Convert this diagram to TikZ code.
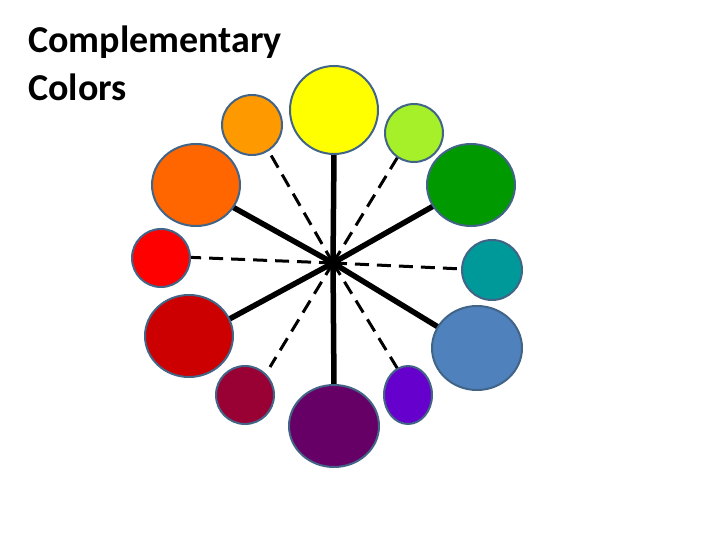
\documentclass[tikz,border=0pt]{standalone}
\usepackage{fontspec}
\setmainfont{Carlito}
\begin{document}
\begin{tikzpicture}[x=1pt,y=-1pt,
  solidspoke/.style={line width=5.5pt},
  dashspoke/.style={line width=3pt, dash pattern=on 14pt off 8pt}]
\useasboundingbox (0,0) rectangle (720,540);
\definecolor{bord}{RGB}{65,100,135}
\tikzset{blob/.style={draw=bord, line width=2pt}}
\coordinate (c) at (333,263);
\draw[solidspoke] (c) -- (334,154);
\draw[solidspoke] (c) -- (229,205);
\draw[solidspoke] (c) -- (437,204);
\draw[solidspoke] (c) -- (222,323);
\draw[solidspoke] (c) -- (443,330);
\draw[solidspoke] (c) -- (334,385);
\draw[dashspoke] (c) -- (264,143);
\draw[dashspoke] (c) -- (402,150);
\draw[dashspoke] (c) -- (181,257);
\draw[dashspoke] (c) -- (463,269);
\draw[dashspoke] (c) -- (270,367);
\draw[dashspoke] (c) -- (402,376);
\foreach \n/\x/\y/\rx/\ry/\col in {
 yel/334/110/44/44/FFFF00, ors/252/125/30/30/FF9900, lim/414/133/29/29/A6F02A,
 orb/196/185/44/41/FF6600, grn/471/185/44/41/009900, red/161/258/29/29/FF0000,
 tea/492/270/30/30/009999, drd/189/336/44/41/CC0000, blu/477/348/45/42/4F81BD,
 crm/245/395/29/29/990033, pur/334/426/45/41/660066, vio/408/395/24/29/6600CC}
 {\definecolor{cc}{HTML}{\col}
  \draw[blob, fill=cc] (\x,\y) ellipse [x radius=\rx, y radius=\ry];}
\node[anchor=north west, align=left, font=\bfseries\fontsize{38}{48}\selectfont, inner sep=0pt] (title) at (28,26) {Complementary\\Colors};
\end{tikzpicture}
\end{document}
